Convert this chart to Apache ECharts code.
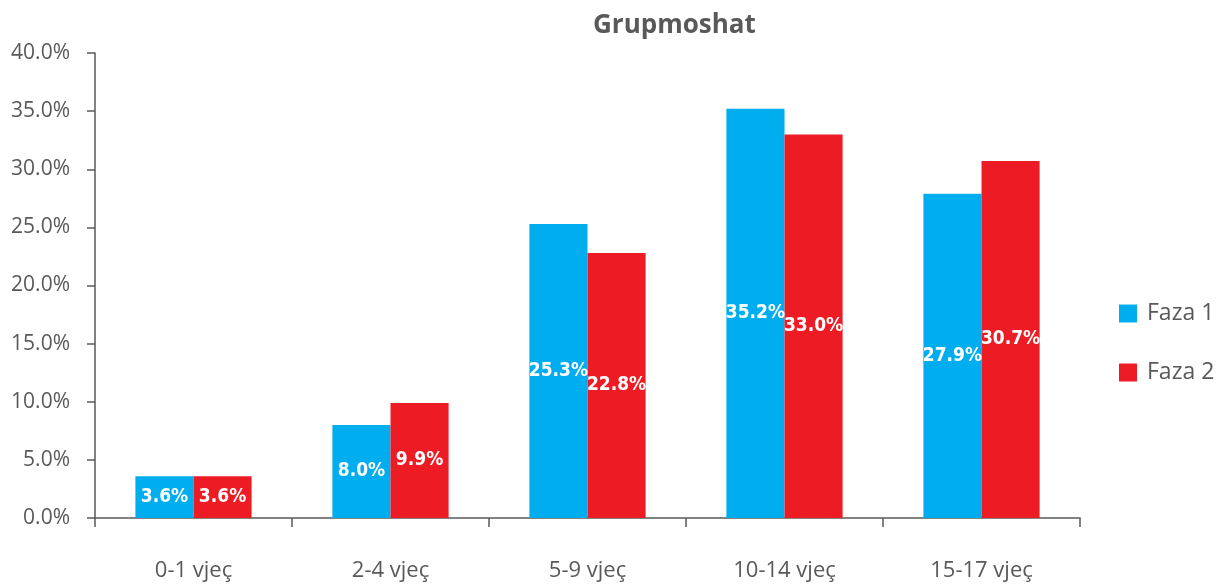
<!DOCTYPE html>
<html><head><meta charset="utf-8">
<script src="https://cdn.jsdelivr.net/npm/echarts@6/dist/echarts.min.js"></script>
<style>html,body{margin:0;padding:0;background:#fff}#c{width:1225px;height:585px}</style>
</head><body><div id="c"></div>
<script>
const categories = ['0-1 vjeç', '2-4 vjeç', '5-9 vjeç', '10-14 vjeç', '15-17 vjeç'];
const faza1 = [3.6, 8.0, 25.3, 35.2, 27.9];
const faza2 = [3.6, 9.9, 22.8, 33.0, 30.7];
const seriesNames = ['Faza 1', 'Faza 2'];
const titleText = 'Grupmoshat';

const gray = '#595959';
const chart = echarts.init(document.getElementById('c'));
const labelStyle = {
  show: true, position: 'inside', color: '#fff',
  fontFamily: '"DejaVu Sans Condensed", "Liberation Sans", sans-serif', fontWeight: 'bold', fontSize: 19,
  formatter: p => p.value.toFixed(1) + '%'
};
chart.setOption({
  animation: false,
  title: { text: titleText, left: 588, top: 8,
    textStyle: { fontFamily: 'Open Sans', fontWeight: 'bold', fontSize: 26, color: gray } },
  legend: { orient: 'vertical', left: 1114, top: 297, itemWidth: 18, itemHeight: 18, itemGap: 36,
    icon: 'rect', data: seriesNames,
    textStyle: { fontFamily: 'Open Sans', fontSize: 23, color: gray, padding: [0, 0, 0, 5] } },
  grid: { left: 95, right: 145, top: 53, bottom: 67, containLabel: false },
  xAxis: { type: 'category', data: categories,
    axisLine: { lineStyle: { color: gray, width: 1.5 } },
    axisTick: { show: true, length: 9, lineStyle: { color: gray, width: 1.5 } },
    axisLabel: { margin: 42, fontFamily: 'Open Sans', fontSize: 22, color: gray } },
  yAxis: { type: 'value', min: 0, max: 40, interval: 5,
    axisLine: { show: true, lineStyle: { color: gray, width: 1.5 } },
    axisTick: { show: true, length: 8, lineStyle: { color: gray, width: 1.5 } },
    splitLine: { show: false },
    axisLabel: { margin: 25, fontFamily: 'Open Sans', fontSize: 21, color: gray,
      formatter: v => v.toFixed(1) + '%' } },
  series: [
    { name: seriesNames[0], type: 'bar', data: faza1, barGap: '0%', barCategoryGap: '41%',
      itemStyle: { color: '#00AEEF' }, label: labelStyle },
    { name: seriesNames[1], type: 'bar', data: faza2,
      itemStyle: { color: '#ED1C24' }, label: labelStyle }
  ]
});
</script></body></html>
